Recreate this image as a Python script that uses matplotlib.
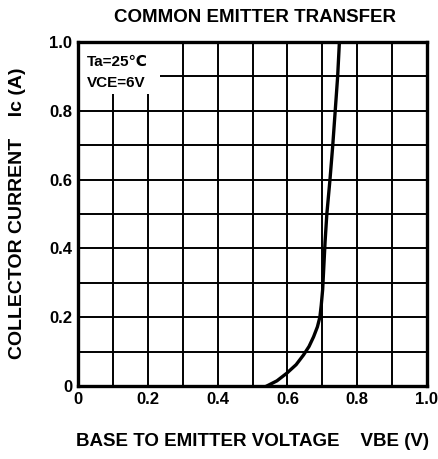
import matplotlib
matplotlib.use("Agg")
from matplotlib import patches, pyplot as plt

plt.rcParams['font.family'] = ['Liberation Sans', 'DejaVu Sans']
plt.rcParams['font.weight'] = 'bold'

# Collector current vs base-emitter voltage
vbe = [0.541, 0.57, 0.598, 0.625, 0.646, 0.662, 0.675, 0.686, 0.693, 0.697, 0.701,
       0.704, 0.708, 0.713, 0.722, 0.730, 0.737, 0.744, 0.749]
ic = [0.0, 0.015, 0.037, 0.062, 0.09, 0.115, 0.143, 0.172, 0.20, 0.235, 0.28,
      0.34, 0.42, 0.50, 0.60, 0.70, 0.80, 0.90, 1.0]

x_ticks = [0, 0.2, 0.4, 0.6, 0.8, 1.0]
x_labels = ['0', '0.2', '0.4', '0.6', '0.8', '1.0']
y_ticks = [0, 0.2, 0.4, 0.6, 0.8, 1.0]
y_labels = ['0', '0.2', '0.4', '0.6', '0.8', '1.0']

fig = plt.figure(figsize=(4.38, 4.59), dpi=100)
ax = fig.add_axes([78 / 438, 1 - 386 / 459, 349 / 438, 344 / 459])

# grid every 0.1
for k in range(1, 10):
    ax.axvline(k / 10, color='black', lw=1.4, zorder=1)
    ax.axhline(k / 10, color='black', lw=1.4, zorder=1)

# white box behind the conditions text
ax.add_patch(patches.Rectangle((0, 0.85), 0.235, 0.15, facecolor='white',
                               edgecolor='none', zorder=2))
ax.text(0.025, 0.942, 'Ta=25℃', fontsize=11, fontweight='bold', va='center', zorder=3)
ax.text(0.025, 0.88, 'VCE=6V', fontsize=11, fontweight='bold', va='center', zorder=3)

ax.plot(vbe, ic, color='black', lw=2.4, zorder=4)

ax.set_xlim(0, 1.0)
ax.set_ylim(0, 1.0)
ax.set_xticks(x_ticks)
ax.set_xticklabels(x_labels, fontsize=12, fontweight='bold')
ax.set_yticks(y_ticks)
ax.set_yticklabels(y_labels, fontsize=12, fontweight='bold')
ax.tick_params(length=0, pad=4)
for s in ax.spines.values():
    s.set_linewidth(2.4)

fig.text(255 / 438, 1 - 18 / 459, 'COMMON EMITTER TRANSFER', fontsize=13.5,
         fontweight='bold', ha='center', va='center')
fig.text(18 / 438, 1 - 213 / 459, 'COLLECTOR CURRENT    Ic (A)', fontsize=14,
         rotation=90, ha='center', va='center', fontweight='bold')
fig.text(252 / 438, 1 - 441 / 459, 'BASE TO EMITTER VOLTAGE    VBE (V)', fontsize=13.5,
         ha='center', va='center', fontweight='bold')

fig.savefig('out.png', dpi=100, facecolor='white')
